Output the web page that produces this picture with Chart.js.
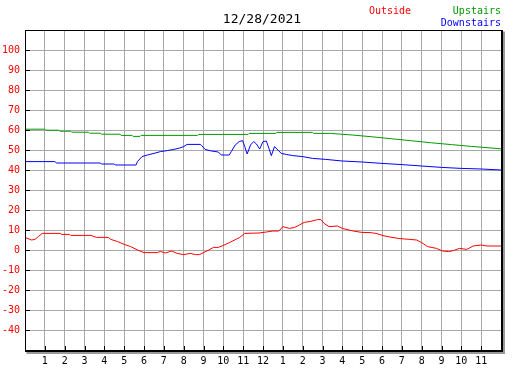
<!DOCTYPE html>
<html>
<head>
<meta charset="utf-8">
<script src="https://cdn.jsdelivr.net/npm/chart.js@4"></script>
<style>
  body { margin: 0; background: #fff; }
  #wrap { width: 527px; height: 370px; }
</style>
</head>
<body>
<div id="wrap"><canvas id="myChart" width="527" height="370"></canvas></div>
<script>
const title = '12/28/2021';
const seriesNames = ['Outside', 'Upstairs', 'Downstairs'];
const seriesColors = ['#ff0000', '#009900', '#0000ff'];

const outsideHours = [0, 0.33, 0.5, 0.67, 0.87, 1.8, 1.83, 2.25, 2.3, 3.33, 3.6, 4.2, 4.33, 4.67, 5, 5.33, 5.67, 6, 6.67, 6.83, 7.08, 7.4, 7.67, 8, 8.33, 8.6, 8.8, 9, 9.33, 9.5, 9.75, 10, 10.33, 10.67, 10.83, 11.08, 11.8, 12.17, 12.5, 12.8, 13, 13.33, 13.6, 13.83, 14.08, 14.4, 14.75, 14.92, 15.08, 15.33, 15.75, 16, 16.55, 16.98, 17.4, 17.7, 18.05, 18.5, 18.9, 19.4, 19.75, 20, 20.3, 20.75, 21.05, 21.35, 21.6, 21.9, 22.27, 22.6, 23, 23.3, 24];
const outsideTemps = [6.3, 5, 5.3, 6.7, 8.3, 8.3, 7.8, 7.8, 7.3, 7.3, 6.3, 6.3, 5.3, 4.2, 2.8, 1.7, 0, -1.3, -1.3, -0.7, -1.5, -0.5, -1.7, -2.3, -1.7, -2.3, -2.3, -1.3, 0.3, 1.3, 1.3, 2.3, 3.8, 5.5, 6.3, 8.3, 8.5, 9, 9.5, 9.5, 11.7, 10.8, 11.3, 12.5, 13.8, 14.3, 15.2, 15.2, 13.3, 11.7, 12, 10.8, 9.5, 8.8, 8.7, 8.3, 7.2, 6.3, 5.7, 5.3, 5, 3.7, 1.7, 0.8, -0.5, -0.8, -0.3, 0.8, 0.3, 2, 2.5, 2, 2];

const upHours = [0, 1, 1.05, 1.7, 1.75, 2.3, 2.35, 3.2, 3.25, 3.8, 3.85, 4.8, 4.85, 5.4, 5.45, 5.8, 5.85, 8.7, 8.75, 11.25, 11.3, 12.65, 12.7, 14.5, 14.55, 15.4, 16.5, 17.5, 18.5, 19.5, 20.5, 21.5, 22.5, 23.5, 24];
const upTemps = [60.4, 60.4, 59.9, 59.9, 59.4, 59.4, 58.9, 58.9, 58.4, 58.4, 57.9, 57.9, 57.3, 57.3, 56.8, 56.8, 57.3, 57.3, 57.8, 57.8, 58.3, 58.3, 58.8, 58.8, 58.3, 58.3, 57.5, 56.6, 55.6, 54.6, 53.6, 52.7, 51.8, 51, 50.6];

const downHours = [0, 1.5, 1.6, 3.8, 3.85, 4.5, 4.55, 5.6, 5.67, 5.9, 6.17, 6.5, 6.83, 7.17, 7.5, 7.8, 8, 8.17, 8.83, 8.9, 9.08, 9.4, 9.75, 9.9, 10.3, 10.4, 10.6, 10.8, 10.97, 11.08, 11.2, 11.37, 11.53, 11.67, 11.83, 12, 12.17, 12.3, 12.42, 12.58, 12.75, 12.92, 13.17, 13.5, 14, 14.5, 15.17, 16, 17, 18, 19, 20, 21, 22, 23, 24];
const downTemps = [44.2, 44.2, 43.5, 43.5, 43, 43, 42.5, 42.5, 44.2, 46.7, 47.5, 48.3, 49.2, 49.7, 50.3, 51, 51.7, 52.8, 52.8, 52.3, 50.3, 49.5, 49, 47.5, 47.5, 49.2, 52.5, 54.2, 54.7, 51.7, 48, 52.5, 54.2, 53, 50.5, 54.2, 54.5, 50.8, 47.2, 51.7, 50, 48.3, 47.8, 47.2, 46.7, 45.8, 45.3, 44.5, 44, 43.3, 42.7, 42, 41.3, 40.8, 40.5, 40];

const hourMin = 0, hourMax = 24;
const tempMin = -50, tempMax = 110, tempStep = 10;

function points(xs, ys) {
    return xs.map((h, i) => ({ x: h, y: ys[i] }));
}

Chart.defaults.font.family = 'DejaVu Sans Mono';
Chart.defaults.font.size = 10;

const decor = {
    id: 'decor',
    afterDraw(chart) {
        const ctx = chart.ctx;
        const a = chart.chartArea;
        const x = chart.scales.x, y = chart.scales.y;
        ctx.save();
        // little ticks inside the frame
        ctx.strokeStyle = '#000';
        ctx.lineWidth = 1;
        ctx.beginPath();
        x.ticks.forEach(t => {
            const px = Math.round(x.getPixelForValue(t.value)) + 0.5;
            ctx.moveTo(px, a.bottom);
            ctx.lineTo(px, a.bottom - 4);
        });
        y.ticks.forEach(t => {
            const py = Math.round(y.getPixelForValue(t.value)) + 0.5;
            ctx.moveTo(a.left, py);
            ctx.lineTo(a.left + 5, py);
        });
        ctx.stroke();
        // frame
        const l = Math.round(a.left) + 0.5, t = Math.round(a.top) + 0.5;
        const r = Math.round(a.right), b = Math.round(a.bottom);
        ctx.beginPath();
        ctx.moveTo(l, b); ctx.lineTo(l, t); ctx.lineTo(r, t);
        ctx.stroke();
        ctx.fillStyle = '#000';
        ctx.fillRect(r, t - 0.5, 2, b - t + 2.5);
        ctx.fillRect(l - 0.5, b, r - l + 2.5, 2);
        ctx.fillStyle = '#999';
        ctx.fillRect(r + 2, t + 1, 2, b - t + 3);
        ctx.fillRect(l + 1, b + 2, r - l + 3, 2);
        // title
        ctx.font = '13px "DejaVu Sans Mono"';
        ctx.textAlign = 'center';
        ctx.textBaseline = 'middle';
        ctx.fillStyle = '#000';
        ctx.fillText(title, 262, 20);
        // legend
        ctx.font = '10px "DejaVu Sans Mono"';
        const ds = chart.data.datasets;
        ctx.textAlign = 'left';
        ctx.fillStyle = ds[0].borderColor;
        ctx.fillText(ds[0].label, 369, 11);
        ctx.textAlign = 'right';
        ctx.fillStyle = ds[1].borderColor;
        ctx.fillText(ds[1].label, 501, 11);
        ctx.fillStyle = ds[2].borderColor;
        ctx.fillText(ds[2].label, 501, 23);
        ctx.restore();
    }
};

const ctx = document.getElementById('myChart').getContext('2d');
const myChart = new Chart(ctx, {
    type: 'line',
    data: {
        datasets: [
            { label: seriesNames[0], data: points(outsideHours, outsideTemps), borderColor: seriesColors[0] },
            { label: seriesNames[1], data: points(upHours, upTemps), borderColor: seriesColors[1] },
            { label: seriesNames[2], data: points(downHours, downTemps), borderColor: seriesColors[2] }
        ]
    },
    options: {
        responsive: false,
        animation: false,
        layout: { padding: { left: 0, right: 26, top: 30, bottom: 0 } },
        elements: {
            point: { radius: 0 },
            line: { borderWidth: 1, tension: 0 }
        },
        plugins: {
            legend: { display: false },
            title: { display: false },
            tooltip: { enabled: false }
        },
        scales: {
            x: {
                type: 'linear',
                min: hourMin,
                max: hourMax,
                afterFit: s => { s.height = 20; },
                border: { display: false },
                grid: { color: '#a8a8a8', drawTicks: false },
                ticks: {
                    stepSize: 1,
                    padding: 5,
                    color: '#000',
                    maxRotation: 0,
                    autoSkip: false,
                    callback: v => (v % 12 === 0 && v !== 12) ? '' : String(v > 12 ? v - 12 : v)
                }
            },
            y: {
                min: tempMin,
                max: tempMax,
                afterFit: s => { s.width = 25; },
                border: { display: false },
                grid: { color: '#a8a8a8', drawTicks: false },
                ticks: {
                    stepSize: tempStep,
                    padding: 5,
                    color: '#ff0000',
                    callback: v => (v === tempMin || v === tempMax) ? '' : v
                }
            }
        }
    },
    plugins: [decor]
});
</script>
</body>
</html>
